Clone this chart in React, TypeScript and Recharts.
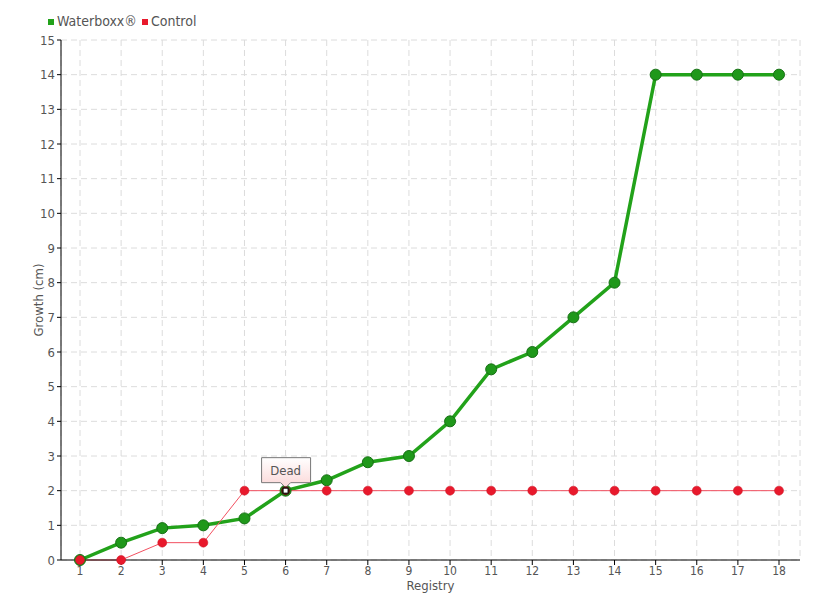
import React from 'react';
import { LineChart, Line, XAxis, YAxis, CartesianGrid } from 'recharts';

const registry = ['1','2','3','4','5','6','7','8','9','10','11','12','13','14','15','16','17','18'];
const waterboxx = [0, 0.5, 0.92, 1.0, 1.2, 2.0, 2.3, 2.82, 3.0, 4.0, 5.5, 6.0, 7.0, 8.0, 14, 14, 14, 14];
const control = [0, 0, 0.5, 0.5, 2, 2, 2, 2, 2, 2, 2, 2, 2, 2, 2, 2, 2, 2];
const yTicks = [0,1,2,3,4,5,6,7,8,9,10,11,12,13,14,15];
const seriesNames = ['Waterboxx®', 'Control'];
const seriesColors = ['#22a21a', '#e8192c'];
const annotationIndex = 5;
const annotationText = 'Dead';

const data = registry.map((r, i) => ({ registry: r, waterboxx: waterboxx[i], control: control[i] }));

const FONT = '"DejaVu Sans Condensed", "DejaVu Sans", sans-serif';

const ControlDot = (props: any) => {
  const { cx, cy, index } = props;
  if (cx == null || cy == null) return null;
  if (index === annotationIndex) {
    const bw = 49, bh = 25;
    const bx = cx - 24, by = cy - 33;
    return (
      <g key={`cd-${index}`}>
        <defs>
          <linearGradient id="deadGrad" x1="0" y1="0" x2="0" y2="1">
            <stop offset="0%" stopColor="#ffffff" />
            <stop offset="100%" stopColor="#fbd6d6" />
          </linearGradient>
        </defs>
        <path
          d={`M${bx},${by} L${bx + bw},${by} L${bx + bw},${by + bh} L${cx + 5},${by + bh} L${cx},${by + bh + 5} L${cx - 5},${by + bh} L${bx},${by + bh} Z`}
          fill="url(#deadGrad)" stroke="#777" strokeWidth={1}
        />
        <text x={cx} y={by + 17} textAnchor="middle" fontFamily={FONT} fontSize={13} fill="#555">{annotationText}</text>
        <circle cx={cx} cy={cy} r={4.5} fill="#5a1a10" />
        <rect x={cx - 2.5} y={cy - 2.5} width={5} height={5} fill="#fff" stroke="#000" strokeWidth={1} />
      </g>
    );
  }
  return <circle key={`cd-${index}`} cx={cx} cy={cy} r={4.5} fill="#e8192c" stroke="#c81020" strokeWidth={0.5} />;
};

export default function App() {
  return (
    <div style={{ position: 'absolute', left: 0, top: 0, width: 820, height: 600, background: '#fff' }}>
      <div style={{ position: 'absolute', left: 48, top: 13, display: 'flex', alignItems: 'center', fontFamily: FONT, fontSize: 14, color: '#555', zIndex: 2 }}>
        {seriesNames.map((n, i) => (
          <span key={n} style={{ display: 'flex', alignItems: 'center', marginRight: 5 }}>
            <span style={{ display: 'inline-block', width: 6, height: 6, background: seriesColors[i], marginRight: 3, marginTop: 2 }} />
            {n}
          </span>
        ))}
      </div>
      <LineChart width={820} height={600} data={data} margin={{ top: 40, right: 20, bottom: 6, left: 21 }}>
        <CartesianGrid stroke="#dcdcdc" strokeDasharray="6 4" />
        <XAxis
          dataKey="registry"
          stroke="#000"
          padding={{ left: 19, right: 21 }}
          tick={{ fill: '#555', fontFamily: FONT, fontSize: 12 }}
          tickSize={5}
          tickMargin={1}
          height={34}
          label={{ value: 'Registry', position: 'insideBottom', offset: 4, fill: '#555', fontFamily: FONT, fontSize: 13 }}
        />
        <YAxis
          domain={[0, 15]}
          ticks={yTicks}
          interval={0}
          stroke="#000"
          tick={{ fill: '#555', fontFamily: FONT, fontSize: 13 }}
          tickSize={4}
          width={40}
          label={{ value: 'Growth (cm)', angle: -90, position: 'insideLeft', offset: 17, fill: '#555', fontFamily: FONT, fontSize: 13, style: { textAnchor: 'middle' } }}
        />
        <Line
          dataKey="waterboxx"
          stroke="#22a21a"
          strokeWidth={3.5}
          dot={{ r: 5.5, fill: '#1f981a', stroke: '#167014', strokeWidth: 1 }}
          isAnimationActive={false}
        />
        <Line
          dataKey="control"
          stroke="#f25060"
          strokeWidth={1}
          dot={<ControlDot />}
          isAnimationActive={false}
        />
      </LineChart>
    </div>
  );
}
